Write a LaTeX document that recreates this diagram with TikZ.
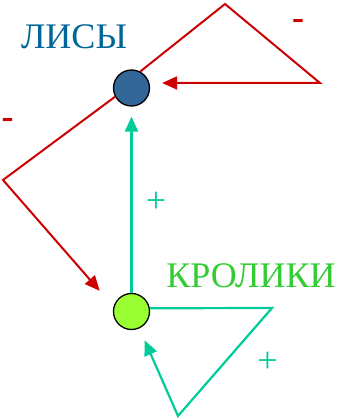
\documentclass[tikz,border=0pt]{standalone}
\usepackage{fontspec}
\setmainfont{Liberation Serif}
\usetikzlibrary{arrows.meta}

\definecolor{foxblue}{HTML}{336699}
\definecolor{foxtext}{HTML}{006699}
\definecolor{rabbitgreen}{HTML}{99FF33}
\definecolor{rabbittext}{HTML}{33CC33}
\definecolor{negred}{HTML}{CC0000}
\definecolor{posteal}{HTML}{00CC99}

\begin{document}
\begin{tikzpicture}[x=1pt, y=-1pt]
		% Styles
		\tikzstyle{species}=[circle,draw=black,line width=1.3pt,minimum size=36pt,inner sep=0pt]
		\tikzstyle{neglink}=[draw=negred,line width=2pt,line join=miter]
		\tikzstyle{poslink}=[draw=posteal,line width=2.2pt,line join=miter]
		\tikzstyle{headed}=[-{Triangle[length=15pt,width=13pt]}]
		\tikzstyle{signlabel}=[inner sep=0pt,font=\fontsize{36}{40}\selectfont]

		\useasboundingbox (0,0) rectangle (341,419);

		% Populations
		\node[species, fill=foxblue] (fox) at (131.5,88) {};
		\node[species, fill=rabbitgreen] (rabbit) at (131.5,311.5) {};

		% Corners of the loops
		\coordinate (foxtop) at (225,4);
		\coordinate (foxright) at (320,83);
		\coordinate (foxleft) at (3,180);
		\coordinate (rabbitright) at (272,308);
		\coordinate (rabbitbottom) at (178,416);

		% Negative links (foxes)
		\path[neglink, headed, shorten >=12pt] (fox.62) -- (foxtop) -- (foxright) -- (foxright -| fox.east);
		\path[neglink, headed, shorten >=21pt] (fox.208) -- (foxleft) -- (rabbit.165);

		% Positive links (rabbits)
		\path[poslink, headed, shorten >=10pt] (rabbit.north) -- (fox.south);
		\path[poslink, headed, shorten >=13pt] (rabbit.10) -- (rabbitright) -- (rabbitbottom) -- (rabbit.295);

		% Labels
		\node[signlabel, text=foxtext] (foxname) at (74,36.5) {ЛИСЫ};
		\node[signlabel, text=rabbittext] (rabbitname) at (251,275.5) {КРОЛИКИ};
		\foreach \name/\pos in {foxself/{(298,25)}, foxrabbit/{(7.5,123.5)}}
		\node[signlabel, text=negred, font=\fontsize{36}{40}\selectfont\bfseries] (\name) at \pos {-};
		\foreach \name/\pos in {rabbitfox/{(156,202.5)}, rabbitself/{(267.5,362.5)}}
		\node[signlabel, text=posteal] (\name) at \pos {+};
	\end{tikzpicture}
\end{document}
